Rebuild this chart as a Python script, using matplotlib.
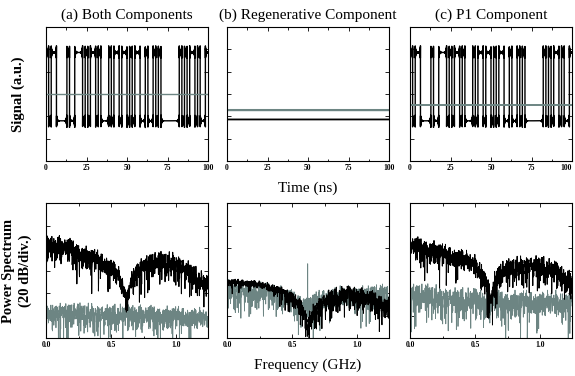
import numpy as np
import matplotlib
matplotlib.use('Agg')
import matplotlib.pyplot as plt
from matplotlib.ticker import MultipleLocator

plt.rcParams['font.family'] = ['Liberation Serif', 'DejaVu Serif']

bits = [1, 0, 1, 1, 0, 0, 0, 0, 1, 0, 0, 1, 1, 1, 0, 1, 0, 1, 1, 0, 1,
        0, 0, 0, 1, 0, 1, 1, 0, 1, 1, 0, 1, 0, 1, 1, 0, 0, 1, 0, 0, 1,
        0, 1, 0, 0, 0, 0, 0, 0, 0, 1, 0, 1, 0, 1, 1, 0, 1, 0, 0, 1]
record_ns = 100.0

# time-domain levels (arbitrary units, axis 0..1)
level_high = 0.81
level_low = 0.30
grey_level_a = 0.50
black_level_b = 0.31
grey_level_b = 0.38
grey_level_c = 0.42

# spectra: frequency (GHz) vs. upper edge of the trace (dB)
fa_black = [0, 0.1, 0.2, 0.3, 0.4, 0.5, 0.55, 0.6, 0.62, 0.65, 0.7, 0.8, 0.9, 1.0, 1.1, 1.2, 1.24]
top_a_black = [-31, -31, -34, -40, -44, -50, -56, -71, -83, -62, -53, -46, -45, -46, -53, -63, -67]
fa_grey = [0, 0.6, 1.24]
top_a_grey = [-90, -92, -95]

fb_black = [0, 0.2, 0.3, 0.4, 0.5, 0.56, 0.6, 0.62, 0.66, 0.7, 0.8, 0.9, 1.0, 1.1, 1.2, 1.24]
top_b_black = [-68, -69, -71, -74, -80, -86, -95, -102, -92, -85, -77, -76, -76, -79, -83, -86]
fb_black_spread = [0, 0.3, 0.5, 0.6, 1.24]
spread_b_black = [0.35, 0.4, 0.65, 1.0, 1.0]
fb_grey = [0, 0.2, 0.4, 0.5, 0.6, 0.7, 0.8, 1.0, 1.24]
top_b_grey = [-70, -71, -75, -79, -84, -80, -76, -75, -74]
spike_b_grey = (0.62, -54)

fc_black = [0, 0.1, 0.2, 0.3, 0.4, 0.5, 0.55, 0.6, 0.62, 0.65, 0.7, 0.8, 0.9, 1.0, 1.1, 1.2, 1.24]
top_c_black = [-31, -33, -36, -40, -42, -48, -54, -67, -83, -62, -54, -50, -48, -48, -53, -60, -63]
fc_grey = [0, 0.3, 0.6, 1.0, 1.24]
top_c_grey = [-73, -76, -80, -80, -80]
spike_c_grey = (0.0, -18)

titles = ['(a) Both Components', '(b) Regenerative Component', '(c) P1 Component']

BLACK = '#000000'
GREY = '#6d8583'
F_SPAN = 1.245


def nrz_trace(t, lo, hi):
    T = record_ns / len(bits)
    b = np.array(bits)
    k = np.minimum((t / T).astype(int), len(b) - 1)
    y = lo + (hi - lo) * b[k]
    # ringing around every edge gives the bow-tie look on each level
    for e in np.nonzero(np.diff(b))[0] + 1:
        d = b[e] - b[e - 1]
        dt = t - e * T
        ring = 0.05 * np.exp(-np.abs(dt) / 0.35) * np.cos(2 * np.pi * dt / 0.12)
        y += np.where(dt >= 0, d * ring, -d * ring)
    return y


t = np.arange(0, record_ns + 0.005, 0.01)

# spectral texture: periodogram of a long sequence put together from
# shifted / reversed products of the measured bit pattern
s = 2 * np.array(bits) - 1
pieces_re, pieces_im = [], []
for i in range(16):
    pieces_re.append(np.roll(s, (7 * i) % 62) * np.roll(s[::-1], (13 * i + 3) % 62))
    pieces_im.append(np.roll(s, (11 * i + 5) % 62) * np.roll(s[::-1], (17 * i + 1) % 62))
z = np.concatenate(pieces_re) + 1j * np.concatenate(pieces_im)
M = len(z)
P = np.abs(np.fft.fft(z)) ** 2 / (2 * M)
P = P / P.mean()
tex = np.clip(10 * np.log10(np.maximum(P, 1e-6)), -30, 7)
freq = np.arange(M) / M * F_SPAN


def spectrum(fp, top, spread, shift, spike=None):
    env = np.interp(freq, fp, top)
    if np.ndim(spread) == 0:
        k = spread
    else:
        k = np.interp(freq, spread[0], spread[1])
    y = env + k * (np.roll(tex, -int(shift * M)) - 5)
    if spike is not None:
        y[np.argmin(np.abs(freq - spike[0]))] = spike[1]
    return y


fig = plt.figure(figsize=(5.75, 3.76), dpi=100)
lefts = [46 / 575, 227 / 575, 410 / 575]
w = 162 / 575
top_axes = [fig.add_axes([l, 1 - 161 / 376, w, 134 / 376]) for l in lefts]
bot_axes = [fig.add_axes([l, 1 - 338 / 376, w, 135 / 376]) for l in lefts]

# time domain
black_a = nrz_trace(t, level_low, level_high)
top_axes[0].plot(t, black_a, color=BLACK, lw=1.0)
top_axes[0].axhline(grey_level_a, color=GREY, lw=1.0)

top_axes[1].plot(t, np.full_like(t, grey_level_b), color=GREY, lw=1.6)
top_axes[1].plot(t, np.full_like(t, black_level_b), color=BLACK, lw=1.3)

top_axes[2].plot(t, black_a, color=BLACK, lw=1.0)
top_axes[2].axhline(grey_level_c, color=GREY, lw=1.4)

# frequency domain
ax = bot_axes[0]
ax.plot(freq, spectrum(fa_grey, top_a_grey, 1.1, 0.5), color=GREY, lw=0.6)
ax.plot(freq, spectrum(fa_black, top_a_black, 1.1, 0.0), color=BLACK, lw=0.7)

ax = bot_axes[1]
ax.plot(freq, spectrum(fb_grey, top_b_grey, 1.1, 0.75, spike_b_grey), color=GREY, lw=0.6)
ax.plot(freq, spectrum(fb_black, top_b_black, (fb_black_spread, spread_b_black), 0.25),
        color=BLACK, lw=0.7)

ax = bot_axes[2]
ax.plot(freq, spectrum(fc_grey, top_c_grey, 1.3, 0.6, spike_c_grey), color=GREY, lw=0.6)
ax.plot(freq, spectrum(fc_black, top_c_black, 1.1, 0.1), color=BLACK, lw=0.7)

for ax, title in zip(top_axes, titles):
    ax.set_xlim(0, 100)
    ax.set_ylim(0, 1)
    ax.set_xticks([0, 25, 50, 75, 100])
    ax.xaxis.set_minor_locator(MultipleLocator(12.5))
    ax.set_yticks(np.linspace(0, 1, 7))
    ax.set_yticklabels([])
    ax.set_title(title, fontsize=11, pad=6)

for ax in bot_axes:
    ax.set_xlim(0, F_SPAN)
    ax.set_ylim(-120, 0)
    ax.set_xticks([0, 0.5, 1.0])
    ax.set_xticklabels(['0.0', '0.5', '1.0'])
    ax.xaxis.set_minor_locator(MultipleLocator(0.25))
    ax.set_yticks(np.arange(-120, 1, 20))
    ax.set_yticklabels([])

for ax in top_axes + bot_axes:
    ax.tick_params(which='both', direction='in', top=True, right=True,
                   width=0.6, labelsize=5.5, pad=2)
    ax.tick_params(which='major', length=3)
    ax.tick_params(which='minor', length=1.8)
    for lab in ax.get_xticklabels():
        lab.set_fontweight('bold')
    for sp in ax.spines.values():
        sp.set_linewidth(0.8)

# keep the last "100" label of panel (c) inside the figure
top_axes[2].get_xticklabels()[-1].set_horizontalalignment('right')

fig.text(308 / 575, 1 - 188 / 376, 'Time (ns)', ha='center', va='center', fontsize=11)
fig.text(308 / 575, 1 - 365 / 376, 'Frequency (GHz)', ha='center', va='center', fontsize=11)
fig.text(18 / 575, 1 - 94 / 376, 'Signal (a.u.)', rotation=90, ha='center', va='center',
         fontsize=10.5, fontweight='bold')
fig.text(17 / 575, 1 - 271 / 376, 'Power Spectrum\n(20 dB/div.)', rotation=90, ha='center',
         va='center', fontsize=10.5, fontweight='bold', linespacing=1.25)

fig.savefig('out.png', dpi=100)
